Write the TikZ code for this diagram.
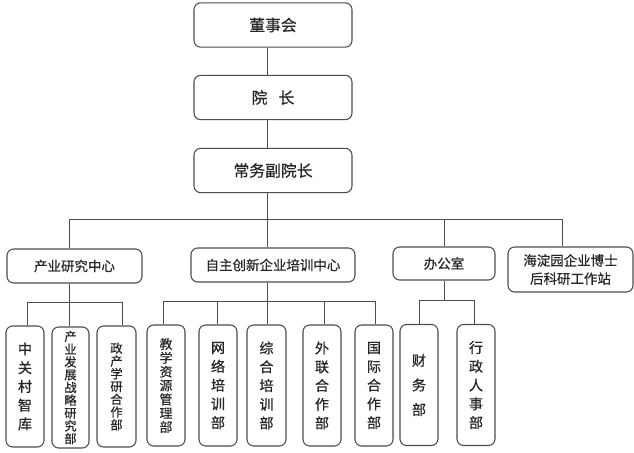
\documentclass[tikz,border=0pt]{standalone}
\usepackage{fontspec}
\setmainfont{Noto Sans CJK SC}[FakeBold=0.6]
\begin{document}
\begin{tikzpicture}[
        % pixel grid of the chart
        x=0.03cm, y=-0.03cm,
        every node/.style={font=\fontsize{11.5}{15.5}\selectfont, text=black!85},
        % Box Styles
        basebox/.style={
            rectangle,
            rounded corners=0.2cm,
            draw=black!70,
            line width=0.9pt,
            fill=white,
            align=center,
            inner sep=0pt
        },
        topbox/.style={
            basebox,
            minimum width=4.74cm,
            minimum height=1.33cm,
            font=\fontsize{13.5}{16}\selectfont
        },
        midbox/.style={
            basebox,
            minimum height=1.02cm
        },
        subbox/.style={
            basebox,
            minimum width=1.14cm,
            minimum height=3.63cm,
            font=\fontsize{12}{16}\selectfont
        },
        tightbox/.style={
            subbox,
            font=\fontsize{10.5}{10.9}\selectfont
        },
        % Connector Style
        link/.style={draw=black!70, line width=0.8pt}
    ]

    \useasboundingbox (0,0) rectangle (634,453);

    % --- Top Level ---
    \node[topbox] (board) at (273,25)   {董事会};
    \node[topbox] (dean)  at (273,97.5) {院\hspace{0.7em}长};
    \node[topbox] (vice)  at (273,170.5) {常务副院长};

    % --- Centres ---
    \node[midbox, minimum width=4.05cm] (ind)  at (74.5,266) {产业研究中心};
    \node[midbox, minimum width=4.92cm] (inno) at (273,265)  {自主创新企业培训中心};
    \node[midbox, minimum width=3.06cm, minimum height=0.99cm] (office) at (444,263.5) {办公室};
    \node[midbox, minimum width=3.75cm, minimum height=1.35cm] (postdoc) at (570.5,269.5) {海淀园企业博士\\后科研工作站};

    % --- Departments ---
    \node[subbox] (zgc)  at (25,386.5)   {中\\关\\村\\智\\库};
    \node[tightbox, minimum width=1.11cm] (fz) at (70.5,387.5) {产\\业\\发\\展\\战\\略\\研\\究\\部};
    \node[tightbox, minimum width=1.17cm] (zcx) at (116.5,386.5) {政\\产\\学\\研\\合\\作\\部};
    \node[subbox, font=\fontsize{11}{11.8}\selectfont] (jx) at (166,385.5) {教\\学\\资\\源\\管\\理\\部};
    \node[subbox] (wl)   at (218,385.5)   {网\\络\\培\\训\\部};
    \node[subbox, minimum width=1.17cm] (zh) at (266.5,385.5) {综\\合\\培\\训\\部};
    \node[subbox] (wlhz) at (322,385.5)   {外\\联\\合\\作\\部};
    \node[subbox] (gj)   at (374,385.5)   {国\\际\\合\\作\\部};
    \node[subbox, font=\fontsize{12}{21}\selectfont] (cw) at (419,385) {财\\务\\部};
    \node[subbox] (xz)   at (476,385)     {行\\政\\人\\事\\部};

    % --- Paths & Connections ---
    \coordinate (spine) at (267,0);
    \coordinate (busL)  at (69,219);
    \coordinate (busR)  at (562,219);

    \draw[link] (board.south -| spine) -- (dean.north -| spine);
    \draw[link] (dean.south -| spine) -- (vice.north -| spine);
    \draw[link] (vice.south -| spine) -- (spine |- busL);
    \draw[link] (busL) -- (busR);
    \draw[link] (busL) -- (busL |- ind.north);
    \draw[link] (spine |- busL) -- (inno.north -| spine);
    \draw[link] (office.north |- busL) -- (office.north);
    \draw[link] (busR) -- (busR |- postdoc.north);

    % centre -> departments
    \coordinate (indL)  at (27,302);
    \coordinate (indR)  at (122,302);
    \coordinate (innoL) at (163,301);
    \coordinate (innoR) at (375,301);
    \coordinate (offL)  at (419,300);
    \coordinate (offR)  at (474,300);

    \draw[link] (ind.south -| busL) -- (busL |- indL);
    \draw[link] (indL) -- (indR);
    \foreach \x/\n in {27/zgc, 69/fz, 122/zcx}
        \draw[link] (\x,302) -- (\n.north -| \x,0);

    \draw[link] (inno.south -| spine) -- (spine |- innoL);
    \draw[link] (innoL) -- (innoR);
    \foreach \x/\n in {163/jx, 217/wl, 267/zh, 324/wlhz, 375/gj}
        \draw[link] (\x,301) -- (\n.north -| \x,0);

    \draw[link] (office.south) -- (office.south |- offL);
    \draw[link] (offL) -- (offR);
    \foreach \x/\n in {419/cw, 474/xz}
        \draw[link] (\x,300) -- (\n.north -| \x,0);

\end{tikzpicture}
\end{document}
